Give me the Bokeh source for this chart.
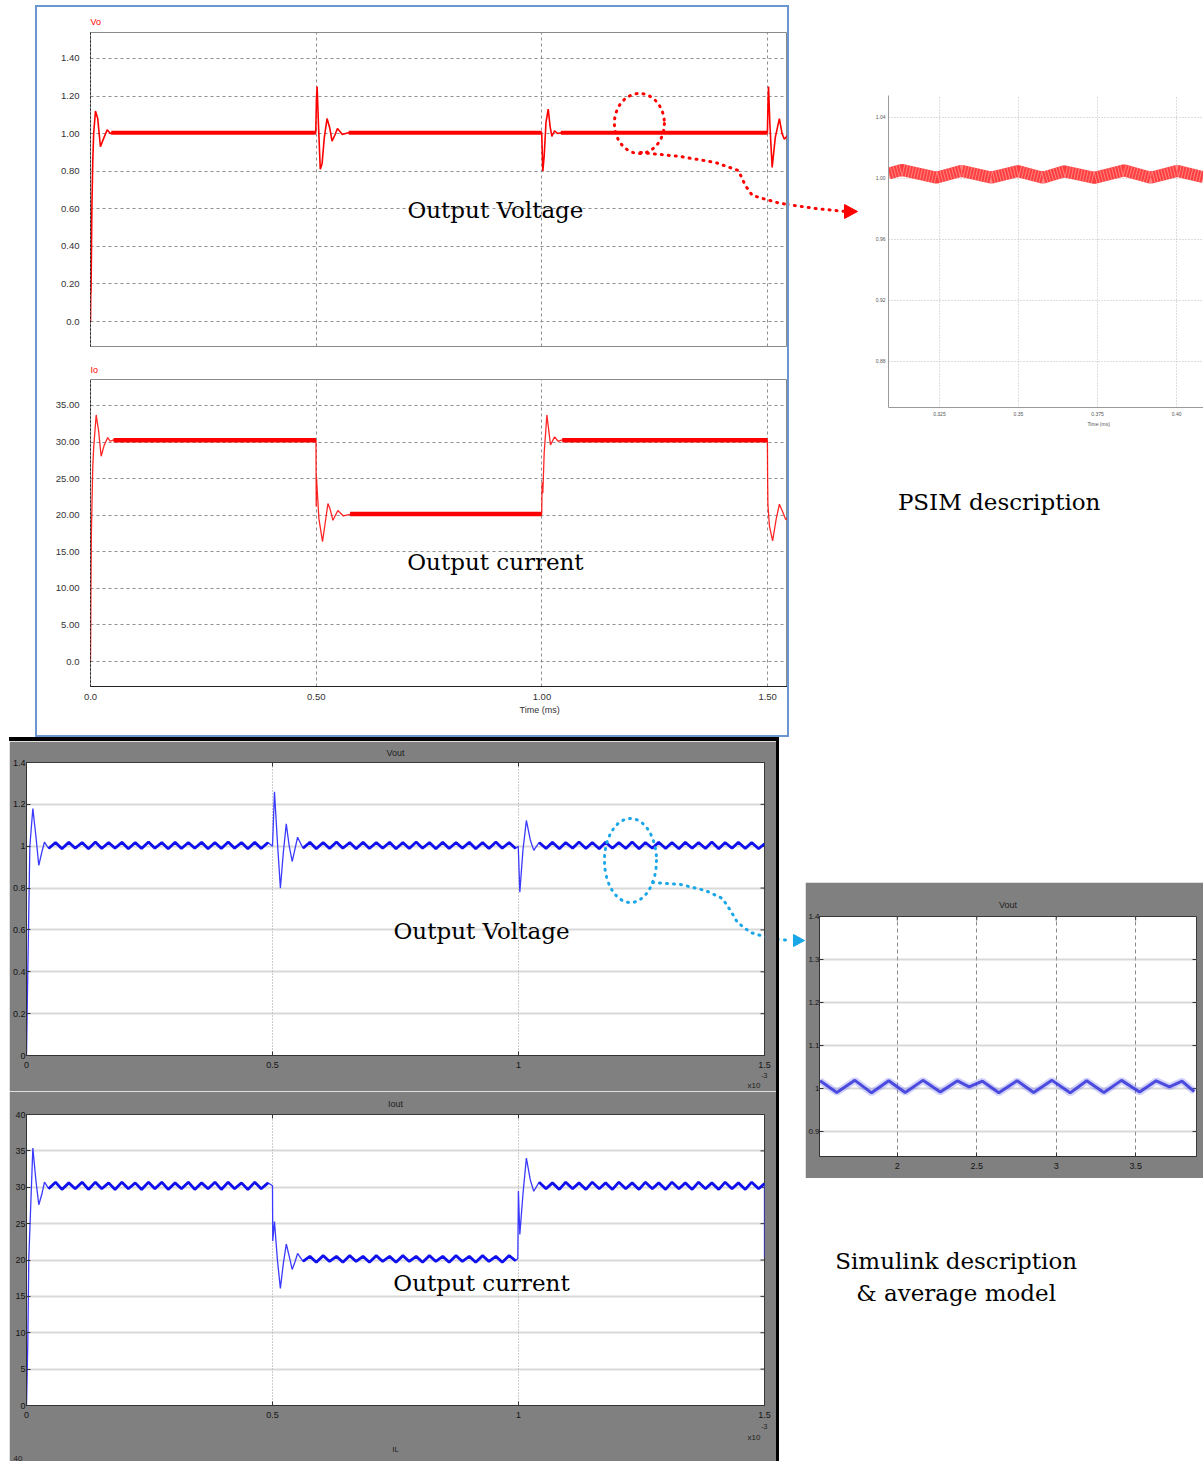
from bokeh.plotting import figure
from bokeh.layouts import row, column
from bokeh.models import Range1d, FixedTicker, Label, Spacer, Title
from bokeh.embed import file_html
from bokeh.resources import INLINE

# ---------------- PSIM data (time in ms) ----------------
psim_vo_t = [0.0, 0.0005, 0.001, 0.002, 0.003, 0.005, 0.007, 0.011, 0.016, 0.022, 0.030, 0.037, 0.044, 0.050,
             0.499, 0.5005, 0.502, 0.505, 0.509, 0.513, 0.518, 0.524, 0.530, 0.535, 0.541, 0.547, 0.553, 0.558, 0.565, 0.572,
             0.9995, 1.002, 1.005, 1.009, 1.014, 1.018, 1.022, 1.028, 1.035, 1.042,
             1.4995, 1.501, 1.502, 1.505, 1.510, 1.517, 1.526, 1.532, 1.537, 1.544]
psim_vo_v = [0.0, 0.15, 0.15, 0.35, 0.60, 0.85, 1.0, 1.12, 1.08, 0.93, 0.98, 1.02, 1.0, 1.005,
             1.005, 1.18, 1.25, 1.05, 0.81, 0.84, 0.98, 1.08, 1.03, 0.96, 0.99, 1.027, 1.01, 0.995, 1.0, 1.005,
             1.005, 0.80, 0.88, 1.06, 1.13, 1.04, 0.985, 1.015, 1.0, 1.005,
             1.005, 1.18, 1.25, 1.05, 0.82, 0.98, 1.08, 1.0, 0.97, 0.99]
psim_vo_steady_t0 = [0.046, 0.572, 1.042]
psim_vo_steady_t1 = [0.499, 0.9995, 1.4995]
psim_vo_steady_v = [1.005, 1.005, 1.005]

psim_io_t = [0.0, 0.0005, 0.001, 0.002, 0.004, 0.005, 0.007, 0.0126, 0.018, 0.0236, 0.030, 0.038, 0.044, 0.051,
             0.4995, 0.5000, 0.5006, 0.5012, 0.506, 0.514, 0.520, 0.526, 0.531, 0.537, 0.548, 0.560, 0.575,
             0.9995, 1.0005, 1.002, 1.005, 1.011, 1.019, 1.028, 1.036, 1.045,
             1.4995, 1.500, 1.5006, 1.504, 1.511, 1.519, 1.526, 1.533, 1.540, 1.544]
psim_io_v = [0.0, 4.2, 10.6, 17.6, 23.7, 26.5, 29.2, 33.7, 31.5, 28.05, 29.5, 30.6, 30.1, 30.3,
             30.25, 21.2, 25.3, 24.5, 19.5, 16.4, 19.0, 21.6, 20.8, 19.3, 20.65, 19.9, 20.1,
             20.15, 24.5, 23.0, 28.5, 33.7, 29.6, 30.7, 30.1, 30.3,
             30.25, 24.8, 21.5, 18.5, 16.5, 19.5, 21.5, 20.5, 19.4, 19.6]
psim_io_steady_t0 = [0.051, 0.575, 1.045]
psim_io_steady_t1 = [0.4995, 0.9995, 1.4995]
psim_io_steady_v = [30.25, 20.15, 30.25]

psim_vo_ticks = [0.0, 0.2, 0.4, 0.6, 0.8, 1.0, 1.2, 1.4]
psim_vo_labels = ["0.0", "0.20", "0.40", "0.60", "0.80", "1.00", "1.20", "1.40"]
psim_io_ticks = [0.0, 5.0, 10.0, 15.0, 20.0, 25.0, 30.0, 35.0]
psim_io_labels = ["0.0", "5.00", "10.00", "15.00", "20.00", "25.00", "30.00", "35.00"]
psim_t_ticks = [0.0, 0.5, 1.0, 1.5]
psim_t_labels = ["0.0", "0.50", "1.00", "1.50"]

# PSIM zoom (detail of Vo)
psim_zoom_t = [0.3089, 0.313, 0.324, 0.332, 0.3414, 0.3498, 0.3577, 0.3645, 0.374, 0.3834, 0.3918, 0.4002, 0.4085]
psim_zoom_v = [1.0032, 1.0056, 1.0005, 1.0050, 1.0005, 1.0048, 1.0005, 1.0047, 1.0004, 1.0053, 1.0005, 1.0050, 1.0008]
psim_zoom_yticks = [0.88, 0.92, 0.96, 1.00, 1.04]
psim_zoom_ylabels = ["0.88", "0.92", "0.96", "1.00", "1.04"]
psim_zoom_xticks = [0.325, 0.35, 0.375, 0.40]
psim_zoom_xlabels = ["0.325", "0.35", "0.375", "0.40"]

# ---------------- Simulink data (time in ms, x10^-3 s) ----------------
sim_ripple_t1 = [0.045, 0.059, 0.072, 0.086, 0.099, 0.113, 0.126, 0.140, 0.153, 0.167,
                 0.180, 0.194, 0.207, 0.221, 0.234, 0.248, 0.261, 0.275, 0.288, 0.302,
                 0.315, 0.329, 0.342, 0.356, 0.369, 0.383, 0.396, 0.410, 0.423, 0.437,
                 0.450, 0.464, 0.477, 0.491]
sim_ripple_t2 = [0.562, 0.576, 0.589, 0.603, 0.616, 0.630, 0.643, 0.657, 0.670, 0.684,
                 0.697, 0.711, 0.724, 0.738, 0.751, 0.765, 0.778, 0.792, 0.805, 0.819,
                 0.832, 0.846, 0.859, 0.873, 0.886, 0.900, 0.913, 0.927, 0.940, 0.954,
                 0.967, 0.981, 0.994]
sim_ripple_t3 = [1.042, 1.056, 1.069, 1.083, 1.096, 1.110, 1.123, 1.137, 1.150, 1.164,
                 1.177, 1.191, 1.204, 1.218, 1.231, 1.245, 1.258, 1.272, 1.285, 1.299,
                 1.312, 1.326, 1.339, 1.353, 1.366, 1.380, 1.393, 1.407, 1.420, 1.434,
                 1.447, 1.461, 1.474, 1.488, 1.500]

vout_ripple_v1 = [0.989, 1.018, 0.988, 1.019, 0.990, 1.018, 0.988, 1.020, 0.989, 1.018,
                  0.990, 1.019, 0.988, 1.018, 0.989, 1.020, 0.990, 1.018, 0.988, 1.019,
                  0.989, 1.018, 0.990, 1.019, 0.988, 1.018, 0.989, 1.020, 0.990, 1.018,
                  0.988, 1.019, 0.989, 1.018]
vout_ripple_v2 = [0.990, 1.019, 0.988, 1.018, 0.989, 1.020, 0.990, 1.018, 0.988, 1.019,
                  0.989, 1.018, 0.990, 1.019, 0.988, 1.018, 0.989, 1.020, 0.990, 1.018,
                  0.988, 1.019, 0.989, 1.018, 0.990, 1.019, 0.988, 1.018, 0.989, 1.020,
                  0.990, 1.018, 0.989]
vout_ripple_v3 = [1.018, 0.989, 1.019, 0.988, 1.018, 0.990, 1.020, 0.989, 1.018, 0.988,
                  1.019, 0.990, 1.018, 0.989, 1.020, 0.988, 1.018, 0.990, 1.019, 0.989,
                  1.018, 0.988, 1.019, 0.990, 1.018, 0.989, 1.020, 0.988, 1.018, 0.990,
                  1.019, 0.989, 1.018, 0.988, 1.012]
vout_tr1_t = [0.0, 0.0027, 0.0068, 0.0129, 0.019, 0.025, 0.031, 0.0366]
vout_tr1_v = [0.0, 0.41, 1.0, 1.18, 1.05, 0.908, 0.97, 1.02]
vout_tr2_t = [0.5, 0.504, 0.510, 0.516, 0.522, 0.528, 0.534, 0.540, 0.546, 0.551]
vout_tr2_v = [1.0, 1.26, 1.02, 0.80, 0.97, 1.107, 1.0, 0.927, 0.99, 1.043]
vout_tr3_t = [0.9995, 1.0027, 1.009, 1.016, 1.024, 1.031]
vout_tr3_v = [1.0, 0.78, 0.98, 1.123, 1.03, 0.98]

iout_ripple_v1 = [29.8, 30.7, 29.7, 30.6, 29.8, 30.7, 29.7, 30.7, 29.8, 30.6,
                  29.7, 30.7, 29.8, 30.6, 29.7, 30.7, 29.8, 30.7, 29.7, 30.6,
                  29.8, 30.7, 29.7, 30.6, 29.8, 30.7, 29.7, 30.7, 29.8, 30.6,
                  29.7, 30.7, 29.8, 30.6]
iout_ripple_v2 = [19.8, 20.5, 19.7, 20.6, 19.8, 20.5, 19.7, 20.6, 19.8, 20.5,
                  19.7, 20.6, 19.8, 20.5, 19.7, 20.6, 19.8, 20.5, 19.7, 20.6,
                  19.8, 20.5, 19.7, 20.6, 19.8, 20.5, 19.7, 20.6, 19.8, 20.5,
                  19.7, 20.6, 19.9]
iout_ripple_v3 = [30.7, 29.8, 30.6, 29.7, 30.7, 29.8, 30.6, 29.7, 30.7, 29.8,
                  30.6, 29.7, 30.7, 29.8, 30.6, 29.7, 30.7, 29.8, 30.6, 29.7,
                  30.7, 29.8, 30.6, 29.7, 30.7, 29.8, 30.6, 29.7, 30.7, 29.8,
                  30.6, 29.7, 30.7, 29.8, 30.5]
iout_tr1_t = [0.0, 0.0025, 0.0047, 0.0129, 0.019, 0.025, 0.031, 0.0366]
iout_tr1_v = [0.0, 8.0, 20.3, 35.4, 31.0, 27.6, 29.0, 30.7]
iout_tr2_t = [0.5, 0.5005, 0.504, 0.510, 0.516, 0.522, 0.528, 0.534, 0.540, 0.546, 0.551]
iout_tr2_v = [30.2, 22.6, 25.3, 20.0, 16.1, 19.5, 22.2, 20.5, 18.7, 19.8, 20.9]
iout_tr3_t = [0.9986, 0.9998, 1.0027, 1.009, 1.016, 1.024, 1.031]
iout_tr3_v = [20.2, 29.5, 23.5, 29.0, 34.0, 31.0, 29.45]
iout_tr4_t = [1.5]
iout_tr4_v = [20.3]

sim_t_ticks = [0.0, 0.5, 1.0, 1.5]
sim_t_labels = ["0", "0.5", "1", "1.5"]
sim_vout_ticks = [0.0, 0.2, 0.4, 0.6, 0.8, 1.0, 1.2, 1.4]
sim_vout_labels = ["0", "0.2", "0.4", "0.6", "0.8", "1", "1.2", "1.4"]
sim_iout_ticks = [0, 5, 10, 15, 20, 25, 30, 35, 40]
sim_iout_labels = ["0", "5", "10", "15", "20", "25", "30", "35", "40"]

# Simulink zoom (detail of Vout)
sim_zoom_t = [1.514, 1.619, 1.733, 1.838, 1.946, 2.050, 2.161, 2.271, 2.379, 2.452, 2.536, 2.639,
              2.754, 2.858, 2.973, 3.088, 3.192, 3.300, 3.411, 3.525, 3.629, 3.713, 3.792, 3.869]
sim_zoom_v = [1.018, 0.991, 1.019, 0.990, 1.018, 0.991, 1.019, 0.992, 1.018, 1.004, 1.017, 0.990,
              1.018, 0.991, 1.019, 0.990, 1.018, 0.991, 1.019, 0.992, 1.018, 1.004, 1.017, 0.993]
sim_zoom_xticks = [2.0, 2.5, 3.0, 3.5]
sim_zoom_xlabels = ["2", "2.5", "3", "3.5"]
sim_zoom_yticks = [0.9, 1.0, 1.1, 1.2, 1.3, 1.4]
sim_zoom_ylabels = ["0.9", "1", "1.1", "1.2", "1.3", "1.4"]

# ---------------- helpers ----------------
RED = "#ff0000"
SERIF = "DejaVu Serif"
SANS = "Liberation Sans"


def fig(w, h, xr, yr, left, right, top, bottom, axes=True):
    kw = {}
    if not axes:
        kw = dict(x_axis_type=None, y_axis_type=None)
    p = figure(width=w, height=h, x_range=xr, y_range=yr, output_backend="svg",
               toolbar_location=None, title=None, min_border_left=left,
               min_border_right=right, min_border_top=top, min_border_bottom=bottom, **kw)
    p.outline_line_color = None
    if not axes:
        p.grid.visible = False
    return p


def lab(p, x, y, text, size, color="#222", align="left", font=SERIF, baseline="middle"):
    p.add_layout(Label(x=x, y=y, text=text, text_font_size=size, text_color=color,
                       text_align=align, text_baseline=baseline, text_font=font))


def ttl(p, text, place, size, color="#202020", align="left", offset=0, standoff=0):
    p.add_layout(Title(text=text, align=align, offset=offset, standoff=standoff,
                       text_font=SANS, text_font_size=size, text_font_style="normal",
                       text_color=color), place)


def bar(w, h, color):
    return Spacer(width=w, height=h, styles={"background-color": color})


def psim_style(p, yticks, ylabels):
    p.outline_line_color = "#8a8a8a"
    p.yaxis.ticker = FixedTicker(ticks=yticks)
    p.yaxis.major_label_overrides = dict(zip(yticks, ylabels))
    p.yaxis.axis_line_color = "#222222"
    p.yaxis.axis_line_dash = "2 2"
    p.yaxis.major_tick_in = 0
    p.yaxis.major_tick_out = 0
    p.yaxis.minor_tick_line_color = None
    p.yaxis.major_label_standoff = 11
    p.yaxis.major_label_text_font = SANS
    p.yaxis.major_label_text_font_size = "9.5px"
    p.yaxis.major_label_text_color = "#333333"
    p.ygrid.ticker = FixedTicker(ticks=yticks)
    p.xgrid.ticker = FixedTicker(ticks=[0.5, 1.0, 1.5])
    p.grid.grid_line_color = "#8f8f8f"
    p.grid.grid_line_dash = "3 3"
    p.grid.grid_line_width = 1


# ---------------- PSIM Vo ----------------
vo = fig(750, 350, Range1d(0, 1.544), Range1d(-0.133, 1.538), 53, 0, 25, 11)
psim_style(vo, psim_vo_ticks, psim_vo_labels)
vo.xaxis.visible = False
ttl(vo, "Vo", "above", "9px", color=RED, standoff=12)
vo.line(psim_vo_t, psim_vo_v, line_color=RED, line_width=1.6)
vo.segment(x0=psim_vo_steady_t0, y0=psim_vo_steady_v, x1=psim_vo_steady_t1, y1=psim_vo_steady_v,
           line_color=RED, line_width=4)
lab(vo, 0.897, 0.596, "Output Voltage", "23px", color="#000", align="center")
vo.ellipse(x=[1.2159], y=[1.0538], width=[0.1107], height=[0.3193], fill_color=None,
           line_color=RED, line_width=3, line_dash="1 6", line_cap="round")
vo.line([1.2182, 1.3068, 1.3843, 1.4352, 1.4507, 1.4662, 1.5282, 1.5725],
        [0.8994, 0.8781, 0.8462, 0.8036, 0.7238, 0.6706, 0.6280, 0.6174],
        line_color=RED, line_width=3, line_dash="1 6", line_cap="round")

# ---------------- PSIM Io ----------------
io = fig(750, 378, Range1d(0, 1.544), Range1d(-3.405, 38.541), 53, 0, 21, 49)
psim_style(io, psim_io_ticks, psim_io_labels)
io.xaxis.ticker = FixedTicker(ticks=psim_t_ticks)
io.xaxis.major_label_overrides = dict(zip(psim_t_ticks, psim_t_labels))
io.xaxis.axis_line_color = "#222222"
io.xaxis.major_tick_in = 0
io.xaxis.major_tick_out = 0
io.xaxis.minor_tick_line_color = None
io.xaxis.major_label_standoff = 7
io.xaxis.major_label_text_font = SANS
io.xaxis.major_label_text_font_size = "9.5px"
io.xaxis.major_label_text_color = "#333333"
ttl(io, "Io", "above", "9px", color=RED, standoff=10)
ttl(io, "Time (ms)", "below", "9px", color="#333333", offset=429, standoff=1)
io.line(psim_io_t, psim_io_v, line_color=RED, line_width=1.3, line_alpha=0.85)
io.segment(x0=psim_io_steady_t0, y0=psim_io_steady_v, x1=psim_io_steady_t1, y1=psim_io_steady_v,
           line_color=RED, line_width=4.5)
lab(io, 0.897, 13.62, "Output current", "23px", color="#000", align="center")

BLUE_BOX = "#6b97d1"
psim_box = column(bar(754, 2, BLUE_BOX),
                  row(bar(2, 728, BLUE_BOX), column(vo, io), bar(2, 728, BLUE_BOX)),
                  bar(754, 2, BLUE_BOX))

# arrow piece between PSIM box and zoom (canvas pixel coordinates)
arr1 = fig(83, 737, Range1d(789, 872), Range1d(737, 0), 0, 0, 0, 0, axes=False)
arr1.line([780, 815, 845], [203, 208, 211], line_color=RED, line_width=3, line_dash="1 6", line_cap="round")
arr1.patch([844, 857, 844], [204, 211, 218], fill_color=RED, line_color=RED)

# ---------------- PSIM zoom ----------------
pz = fig(331, 437, Range1d(0.3089, 0.4085), Range1d(0.8498, 1.0544), 15, 0, 95, 30)
for ax in (pz.xaxis, pz.yaxis):
    ax.axis_line_color = "#9a9a9a"
    ax.major_tick_in = 0
    ax.major_tick_out = 0
    ax.minor_tick_line_color = None
    ax.major_label_text_font = SANS
    ax.major_label_text_font_size = "5px"
    ax.major_label_text_color = "#555555"
    ax.major_label_standoff = 4
pz.yaxis.major_label_standoff = 3
pz.xaxis.ticker = FixedTicker(ticks=psim_zoom_xticks)
pz.xaxis.major_label_overrides = dict(zip(psim_zoom_xticks, psim_zoom_xlabels))
pz.yaxis.ticker = FixedTicker(ticks=psim_zoom_yticks)
pz.yaxis.major_label_overrides = dict(zip(psim_zoom_yticks, psim_zoom_ylabels))
pz.xgrid.ticker = FixedTicker(ticks=psim_zoom_xticks)
pz.ygrid.ticker = FixedTicker(ticks=psim_zoom_yticks)
pz.grid.grid_line_color = "#bdbdbd"
pz.grid.grid_line_dash = "1 2"
ttl(pz, "Time (ms)", "below", "5px", color="#555555", offset=199, standoff=1)
pz.line(psim_zoom_t, psim_zoom_v, line_color="#ff2a2a", line_width=12, line_alpha=0.9)
pz.line(psim_zoom_t, psim_zoom_v, line_color="white", line_width=12, line_alpha=0.35, line_dash="1 2")

# text panel under the zoom; same side borders as the zoom so the column keeps its frame
txt1 = fig(331, 300, Range1d(887, 1203), Range1d(737, 437), 15, 0, 0, 0, axes=False)
lab(txt1, 998, 501, "PSIM description", "23px", color="#000", align="center")

top_row = row(Spacer(width=35, height=737),
              column(Spacer(width=754, height=5), psim_box),
              arr1, column(pz, txt1))

# ---------------- Simulink panels ----------------
GRAY = "#808080"


def sim_style(p, xr, yr, xticks, xlabels, yticks, ylabels, xgrid_ticks):
    p.border_fill_color = GRAY
    p.background_fill_color = "white"
    p.outline_line_color = "#3a3a3a"
    p.xaxis.ticker = FixedTicker(ticks=xticks)
    p.xaxis.major_label_overrides = dict(zip(xticks, xlabels))
    p.yaxis.ticker = FixedTicker(ticks=yticks)
    p.yaxis.major_label_overrides = dict(zip(yticks, ylabels))
    for ax in (p.xaxis, p.yaxis):
        ax.axis_line_color = "#333333"
        ax.major_tick_in = 4
        ax.major_tick_out = 0
        ax.major_tick_line_color = "#333333"
        ax.minor_tick_line_color = None
        ax.major_label_text_font = SANS
        ax.major_label_text_font_size = "9px"
        ax.major_label_text_color = "#151515"
    p.yaxis.major_label_standoff = 1
    p.xaxis.major_label_standoff = 6
    # inward tick marks on the right and top edges (half of each dash falls outside the frame)
    p.scatter(x=[xr.end] * len(yticks), y=yticks, marker="dash", size=8, line_color="#333333")
    p.scatter(x=xticks, y=[yr.end] * len(xticks), marker="dash", angle=1.5708, size=8, line_color="#333333")
    p.ygrid.ticker = FixedTicker(ticks=yticks)
    p.xgrid.ticker = FixedTicker(ticks=xgrid_ticks)
    p.ygrid.grid_line_color = "#b2b2b2"
    p.ygrid.grid_line_width = 2
    p.ygrid.grid_line_dash = "1 1"
    p.xgrid.grid_line_color = "#9a9a9a"
    p.xgrid.grid_line_width = 1
    p.xgrid.grid_line_dash = "1 2"


SIM_BLUE = "#1010ee"
vout_t = vout_tr1_t + sim_ripple_t1 + vout_tr2_t + sim_ripple_t2 + vout_tr3_t + sim_ripple_t3
vout_v = vout_tr1_v + vout_ripple_v1 + vout_tr2_v + vout_ripple_v2 + vout_tr3_v + vout_ripple_v3
iout_t = iout_tr1_t + sim_ripple_t1 + iout_tr2_t + sim_ripple_t2 + iout_tr3_t + sim_ripple_t3 + iout_tr4_t
iout_v = iout_tr1_v + iout_ripple_v1 + iout_tr2_v + iout_ripple_v2 + iout_tr3_v + iout_ripple_v3 + iout_tr4_v

sv_xr, sv_yr = Range1d(0, 1.5), Range1d(0, 1.4)
sv = fig(767, 350, sv_xr, sv_yr, 17, 12, 21, 36)
sim_style(sv, sv_xr, sv_yr, sim_t_ticks, sim_t_labels, sim_vout_ticks, sim_vout_labels, [0.5, 1.0])
ttl(sv, "Vout", "above", "9px", align="center", standoff=9)
ttl(sv, "-3", "below", "7px", align="right", offset=-3, standoff=1)
ttl(sv, "x10", "below", "8px", align="right", offset=4, standoff=0)
sv.line(vout_t, vout_v, line_color="#3a3aff", line_width=1.3)
for rt, rv in ((sim_ripple_t1, vout_ripple_v1), (sim_ripple_t2, vout_ripple_v2), (sim_ripple_t3, vout_ripple_v3)):
    sv.line(rt, rv, line_color=SIM_BLUE, line_width=2.8)
lab(sv, 0.9248, 0.597, "Output Voltage", "23px", color="#000", align="center")
sv.ellipse(x=[1.2276], y=[0.9317], width=[0.1057], height=[0.4013], fill_color=None,
           line_color="#1aa7e8", line_width=3, line_dash="1 6", line_cap="round")
sv.line([1.2724, 1.3293, 1.3801, 1.4146, 1.4309, 1.4451, 1.4715, 1.5122],
        [0.8266, 0.8170, 0.7883, 0.7501, 0.6928, 0.6355, 0.5877, 0.5590],
        line_color="#1aa7e8", line_width=3, line_dash="1 6", line_cap="round")

si_xr, si_yr = Range1d(0, 1.5), Range1d(0, 40)
si = fig(767, 370, si_xr, si_yr, 17, 12, 22, 56)
sim_style(si, si_xr, si_yr, sim_t_ticks, sim_t_labels, sim_iout_ticks, sim_iout_labels, [0.5, 1.0])
ttl(si, "Iout", "above", "9px", align="center", standoff=11)
ttl(si, "-3", "below", "7px", align="right", offset=-3, standoff=3)
ttl(si, "x10", "below", "8px", align="right", offset=4, standoff=1)
ttl(si, "IL", "below", "8px", align="center", standoff=0)
ttl(si, "40", "below", "8px", align="left", offset=-13, standoff=0)
si.line(iout_t, iout_v, line_color="#3a3aff", line_width=1.3)
for rt, rv in ((sim_ripple_t1, iout_ripple_v1), (sim_ripple_t2, iout_ripple_v2), (sim_ripple_t3, iout_ripple_v3)):
    si.line(rt, rv, line_color=SIM_BLUE, line_width=2.8)
lab(si, 0.9248, 16.85, "Output current", "23px", color="#000", align="center")

sim_box = column(bar(770, 4, "#000000"),
                 row(column(sv, si), bar(3, 720, "#000000")))

# arrow piece between Simulink box and zoom
arr2 = fig(26, 724, Range1d(779, 805), Range1d(1461, 737), 0, 0, 0, 0, axes=False)
arr2.line([770, 790], [938, 940], line_color="#1aa7e8", line_width=3, line_dash="1 6", line_cap="round")
arr2.patch([793, 804, 793], [934, 940, 946], fill_color="#1aa7e8", line_color="#1aa7e8")

# Simulink zoom
sz_xr, sz_yr = Range1d(1.5103, 3.883), Range1d(0.842, 1.4)
sz = fig(398, 296, sz_xr, sz_yr, 13, 7, 34, 22)
sim_style(sz, sz_xr, sz_yr, sim_zoom_xticks, sim_zoom_xlabels, sim_zoom_yticks, sim_zoom_ylabels, sim_zoom_xticks)
sz.xgrid.grid_line_dash = "4 3"
sz.xgrid.grid_line_color = "#8a8a8a"
sz.yaxis.major_label_standoff = 0
sz.yaxis.major_label_text_font_size = "8px"
ttl(sz, "Vout", "above", "9px", align="center", standoff=13)
sz.line(sim_zoom_t, sim_zoom_v, line_color="#6a6aee", line_width=7, line_alpha=0.3)
sz.line(sim_zoom_t, sim_zoom_v, line_color="#3c3cdc", line_width=3, line_alpha=0.9)

# text panel under the Simulink zoom; same side borders as the zoom
txt2 = fig(398, 283, Range1d(818, 1196), Range1d(1461, 1178), 13, 7, 0, 0, axes=False)
lab(txt2, 955, 1260, "Simulink description", "23px", color="#000", align="center")
lab(txt2, 955, 1292, "& average model", "23px", color="#000", align="center")

right_bottom = column(Spacer(width=398, height=145), sz, txt2)
bottom_row = row(Spacer(width=9, height=724), sim_box, arr2, right_bottom)

root = column(top_row, bottom_row)

open("out.html", "w").write(file_html(root, INLINE))
